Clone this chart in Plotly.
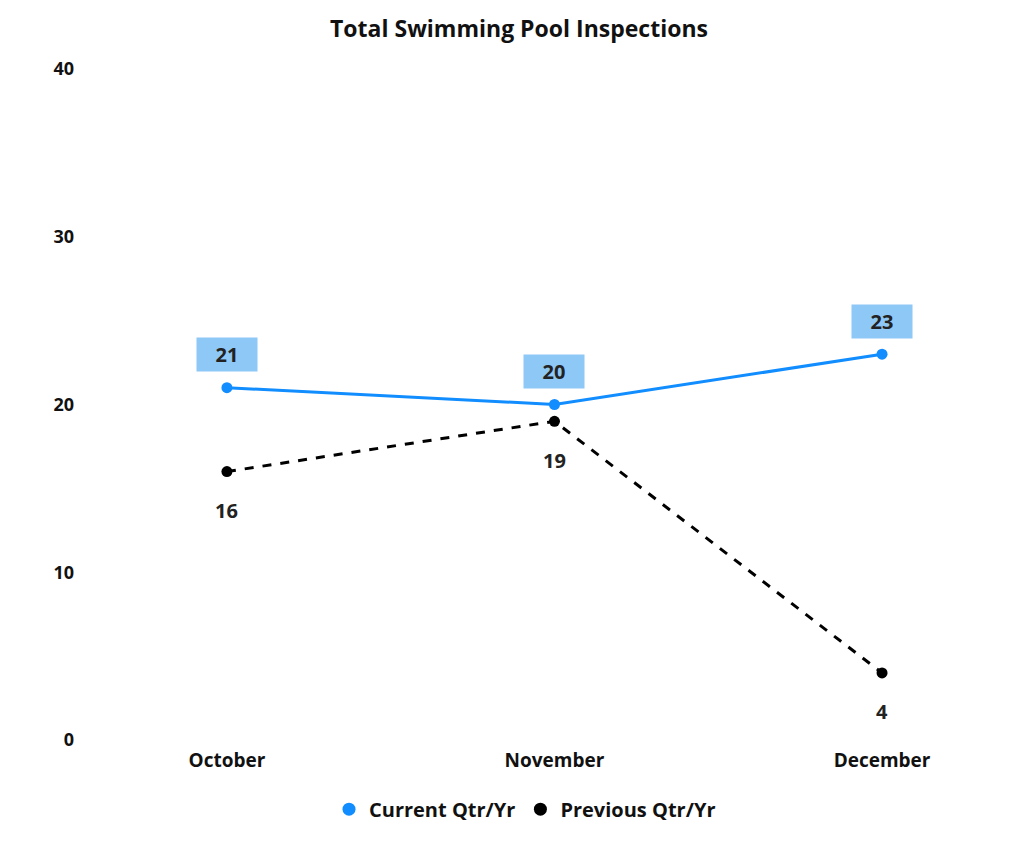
import plotly.graph_objects as go

months = ['October', 'November', 'December']
current = [21, 20, 23]
previous = [16, 19, 4]

BLUE = '#118DFF'
FONT = 'Open Sans'

fig = go.Figure()

# data lines (legend drawn separately so it shows only the dot)
fig.add_trace(go.Scatter(x=months, y=current, mode='lines+markers',
                         showlegend=False,
                         line=dict(color=BLUE, width=3),
                         marker=dict(color=BLUE, size=11)))
fig.add_trace(go.Scatter(x=months, y=previous, mode='lines+markers',
                         showlegend=False,
                         line=dict(color='black', width=3, dash='dash'),
                         marker=dict(color='black', size=11)))

# legend entries
fig.add_trace(go.Scatter(x=[None], y=[None], mode='markers', name='Current Qtr/Yr',
                         marker=dict(color=BLUE, size=13)))
fig.add_trace(go.Scatter(x=[None], y=[None], mode='markers', name='Previous Qtr/Yr',
                         marker=dict(color='black', size=13)))

# data labels
for m, v in zip(months, current):
    fig.add_annotation(x=m, y=v, text='<b>%d</b>' % v, showarrow=False,
                       yshift=33, bgcolor='#8DC8F7', width=56, height=29,
                       borderpad=2,
                       font=dict(family=FONT, size=20, color='#222'))
for m, v in zip(months, previous):
    fig.add_annotation(x=m, y=v, text='<b>%d</b>' % v, showarrow=False,
                       yshift=-39,
                       font=dict(family=FONT, size=20, color='#222'))

fig.update_layout(
    width=1022, height=841,
    paper_bgcolor='white', plot_bgcolor='white',
    margin=dict(l=82, r=70, t=61, b=109),
    title=dict(text='<b>Total Swimming Pool Inspections</b>', x=0.5, xanchor='center',
               y=0.975, yanchor='middle',
               font=dict(family=FONT, size=23, color='#111')),
    font=dict(family=FONT, color='#111'),
    legend=dict(orientation='h', x=0.5, xanchor='center', y=-0.074, yanchor='top',
                font=dict(family=FONT, size=20, color='#111', weight='bold'),
                itemwidth=30, tracegroupgap=0),
)
fig.update_xaxes(type='category', range=[-0.418, 2.238], showgrid=False,
                 showline=False, zeroline=False, ticks='',
                 tickfont=dict(family=FONT, size=19, color='#111', weight='bold'),
                 ticklabelstandoff=7)
fig.update_yaxes(range=[0, 40], tickvals=[0, 10, 20, 30, 40], showgrid=False,
                 showline=False, zeroline=False, ticks='',
                 tickfont=dict(family=FONT, size=18, color='#111', weight='bold'),
                 ticklabelstandoff=15)

fig.write_html('out.html')
